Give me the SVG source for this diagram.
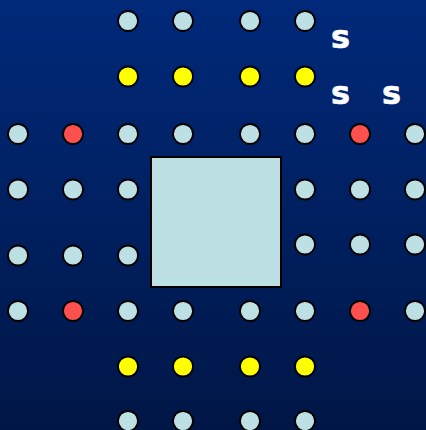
<svg xmlns="http://www.w3.org/2000/svg" width="426" height="430" viewBox="0 0 426 430">
<defs>
<linearGradient id="bg" x1="0" y1="0" x2="0" y2="1">
<stop offset="0" stop-color="#00297a"/>
<stop offset="1" stop-color="#001646"/>
</linearGradient>
</defs>
<style>
circle{stroke:#000;stroke-width:1.8}
.c{fill:#bce0e3}
.r{fill:#ff5050}
.y{fill:#ffff00}
.s{font-family:"DejaVu Sans","Liberation Sans",sans-serif;font-weight:bold;font-size:32px;fill:#fff;stroke:#fff;stroke-width:0.6}
</style>
<rect width="426" height="430" fill="url(#bg)"/>
<g id="block"><rect x="151" y="157" width="130" height="130" fill="#bce0e3" stroke="#000" stroke-width="2"/></g>
<g id="dots">
<circle class="c" cx="128" cy="21" r="10"/><circle class="c" cx="183" cy="21" r="10"/><circle class="c" cx="250" cy="21" r="10"/><circle class="c" cx="305" cy="21" r="10"/>
<circle class="y" cx="128" cy="76.5" r="10"/><circle class="y" cx="183" cy="76.5" r="10"/><circle class="y" cx="250" cy="76.5" r="10"/><circle class="y" cx="305" cy="76.5" r="10"/>
<circle class="c" cx="18" cy="134" r="10"/><circle class="r" cx="73" cy="134" r="10"/><circle class="c" cx="128" cy="134" r="10"/><circle class="c" cx="183" cy="134" r="10"/><circle class="c" cx="250" cy="134" r="10"/><circle class="c" cx="305" cy="134" r="10"/><circle class="r" cx="360" cy="134" r="10"/><circle class="c" cx="415" cy="134" r="10"/>
<circle class="c" cx="18" cy="189.5" r="10"/><circle class="c" cx="73" cy="189.5" r="10"/><circle class="c" cx="128" cy="189.5" r="10"/><circle class="c" cx="305" cy="189.5" r="10"/><circle class="c" cx="360" cy="189.5" r="10"/><circle class="c" cx="415" cy="189.5" r="10"/>
<circle class="c" cx="18" cy="255.5" r="10"/><circle class="c" cx="73" cy="255.5" r="10"/><circle class="c" cx="128" cy="255.5" r="10"/><circle class="c" cx="305" cy="244.5" r="10"/><circle class="c" cx="360" cy="244.5" r="10"/><circle class="c" cx="415" cy="244.5" r="10"/>
<circle class="c" cx="18" cy="311" r="10"/><circle class="r" cx="73" cy="311" r="10"/><circle class="c" cx="128" cy="311" r="10"/><circle class="c" cx="183" cy="311" r="10"/><circle class="c" cx="250" cy="311" r="10"/><circle class="c" cx="305" cy="311" r="10"/><circle class="r" cx="360" cy="311" r="10"/><circle class="c" cx="415" cy="311" r="10"/>
<circle class="y" cx="128" cy="366.5" r="10"/><circle class="y" cx="183" cy="366.5" r="10"/><circle class="y" cx="250" cy="366.5" r="10"/><circle class="y" cx="305" cy="366.5" r="10"/>
<circle class="c" cx="128" cy="421" r="10"/><circle class="c" cx="183" cy="421" r="10"/><circle class="c" cx="250" cy="421" r="10"/><circle class="c" cx="305" cy="421" r="10"/>
</g>
<g id="labels">
<text class="s" x="331" y="48">s</text>
<text class="s" x="331" y="104">s</text>
<text class="s" x="382" y="104">s</text>
</g>
</svg>
